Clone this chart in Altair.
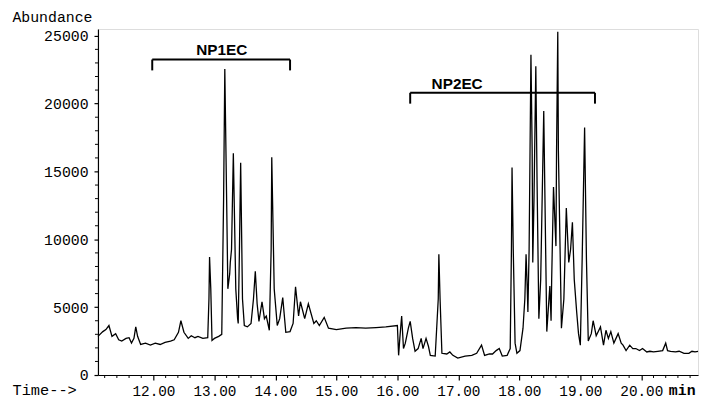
import altair as alt
import pandas as pd

# Retention time (min) and abundance
time_min = [
    11.09, 11.17, 11.22, 11.27, 11.32, 11.38, 11.43, 11.48, 11.55, 11.60,
    11.64, 11.68, 11.71, 11.74, 11.79, 11.87, 11.95, 12.03, 12.11, 12.19,
    12.28, 12.34, 12.41, 12.45, 12.50, 12.57, 12.62, 12.68, 12.73, 12.81,
    12.89, 12.91, 12.92, 12.94, 12.96, 13.00, 13.07, 13.12, 13.15, 13.17,
    13.20, 13.22, 13.25, 13.26, 13.28, 13.31, 13.35, 13.38, 13.39, 13.41,
    13.43, 13.46, 13.49, 13.54, 13.60, 13.64, 13.67, 13.70, 13.73, 13.78,
    13.82, 13.85, 13.90, 13.93, 13.94, 13.98, 14.03, 14.07, 14.12, 14.17,
    14.24, 14.29, 14.33, 14.38, 14.41, 14.48, 14.54, 14.63, 14.67, 14.72,
    14.80, 14.87, 15.00, 15.16, 15.32, 15.48, 15.65, 15.81, 16.00, 16.02,
    16.04, 16.07, 16.10, 16.13, 16.18, 16.21, 16.25, 16.29, 16.34, 16.39,
    16.42, 16.47, 16.51, 16.54, 16.62, 16.67, 16.68, 16.70, 16.73, 16.81,
    16.86, 16.91, 16.99, 17.11, 17.22, 17.30, 17.38, 17.43, 17.51, 17.56,
    17.62, 17.67, 17.72, 17.80, 17.85, 17.87, 17.88, 17.90, 17.93, 17.96,
    18.01, 18.06, 18.09, 18.11, 18.13, 18.14, 18.16, 18.19, 18.21, 18.22,
    18.24, 18.27, 18.29, 18.32, 18.35, 18.40, 18.42, 18.45, 18.50, 18.52,
    18.53, 18.56, 18.60, 18.61, 18.63, 18.64, 18.69, 18.73, 18.77, 18.81,
    18.84, 18.87, 18.90, 18.94, 18.97, 19.00, 19.03, 19.07, 19.10, 19.13,
    19.18, 19.21, 19.26, 19.33, 19.38, 19.42, 19.46, 19.50, 19.55, 19.62,
    19.67, 19.70, 19.75, 19.81, 19.86, 19.91, 19.97, 20.02, 20.09, 20.14,
    20.20, 20.27, 20.35, 20.40, 20.43, 20.48, 20.56, 20.62, 20.70, 20.78,
    20.83, 20.88, 20.93,
]
abundance = [
    2850, 3200, 3350, 3650, 2850, 3050, 2600, 2500, 2700, 2750,
    2350, 2700, 3550, 2850, 2250, 2350, 2200, 2350, 2250, 2400,
    2500, 2600, 3150, 4000, 3150, 2700, 2900, 2750, 2850, 2700,
    2750, 5600, 8700, 6350, 2550, 2700, 2850, 3000, 12900, 22550,
    12900, 6350, 7450, 8300, 9250, 16350, 6350, 4150, 3800, 9250,
    15650, 5600, 3650, 3550, 3800, 5600, 7650, 5250, 3950, 5400,
    4150, 4350, 3300, 9250, 16050, 6350, 3650, 4150, 5700, 3150,
    3200, 3800, 6500, 4350, 5400, 4150, 5250, 3800, 4000, 3650,
    4250, 3450, 3350, 3450, 3500, 3450, 3500, 3550, 3650, 1450,
    2700, 4350, 1950, 2350, 3450, 3950, 2700, 1750, 1950, 2700,
    1950, 2700, 2100, 1450, 1400, 5600, 8900, 5600, 1600, 1550,
    1700, 1450, 1250, 1400, 1450, 1600, 2200, 1450, 1550, 1550,
    1800, 1950, 1400, 1450, 1950, 9250, 15300, 9250, 2350, 1600,
    1800, 3450, 5600, 8900, 6350, 4650, 9250, 23600, 16550, 8300,
    12900, 22750, 14350, 4150, 7050, 19450, 12900, 3200, 6550, 4000,
    7050, 13850, 9500, 16550, 25300, 16550, 3450, 5600, 12300, 8300,
    9250, 11250, 7050, 4650, 3050, 2200, 8550, 18250, 8550, 2500,
    3050, 4000, 2900, 3550, 2200, 3300, 2700, 3200, 2350, 3050,
    2350, 2200, 1800, 2200, 1950, 1950, 1800, 1950, 1700, 1750,
    1700, 1750, 1800, 2350, 1800, 1750, 1700, 1750, 1600, 1600,
    1750, 1700, 1750,
]

x_major = [12, 13, 14, 15, 16, 17, 18, 19, 20]
x_minor = [11.2, 11.4, 11.6, 11.8, 12.2, 12.4, 12.6, 12.8, 13.2, 13.4, 13.6, 13.8,
           14.2, 14.4, 14.6, 14.8, 15.2, 15.4, 15.6, 15.8, 16.2, 16.4, 16.6, 16.8,
           17.2, 17.4, 17.6, 17.8, 18.2, 18.4, 18.6, 18.8, 19.2, 19.4, 19.6, 19.8,
           20.2, 20.4, 20.6, 20.8]
y_major = [0, 5000, 10000, 15000, 20000, 25000]
y_minor = [1000, 2000, 3000, 4000, 6000, 7000, 8000, 9000, 11000, 12000, 13000, 14000,
           16000, 17000, 18000, 19000, 21000, 22000, 23000, 24000]

# Group brackets
group_names = ["NP1EC", "NP2EC"]
group_start = [11.98, 16.21]
group_end = [14.24, 19.24]
group_level = [23250, 20800]
group_drop = [22450, 20000]
group_label_t = [13.12, 16.98]
group_label_y = [23550, 21100]

unit_label = ["min"]
unit_label_t = [20.67]

X_DOMAIN = [11.09, 20.93]
Y_DOMAIN = [0, 25500]
W, H = 607, 350
MONO = "Liberation Mono"

xs = alt.Scale(domain=X_DOMAIN, nice=False, zero=False)
ys = alt.Scale(domain=Y_DOMAIN, nice=False, zero=False)
xaxis = alt.Axis(
    values=x_major, format=".2f", title="Time-->", grid=False,
    domainColor="black", domainWidth=1.2, tickColor="black", tickSize=5, tickWidth=1.2,
    labelFont=MONO, labelFontSize=14.5, labelColor="black", labelPadding=5,
    titleFont=MONO, titleFontSize=15.5, titleFontWeight="normal", titleColor="black",
    titleX=-87, titleY=20, titleAlign="left", titleBaseline="alphabetic", titleAnchor="start")
yaxis = alt.Axis(
    values=y_major, format="d", title="Abundance", grid=False,
    domainColor="black", domainWidth=1.2, tickColor="black", tickSize=4, tickWidth=1.2,
    labelFont=MONO, labelFontSize=15, labelColor="black", labelPadding=6,
    titleFont=MONO, titleFontSize=15, titleFontWeight="normal", titleColor="black",
    titleAngle=0, titleX=-87, titleY=-8, titleAlign="left", titleBaseline="alphabetic",
    titleAnchor="start")

trace = pd.DataFrame({"t": time_min, "a": abundance})
line = alt.Chart(trace).mark_line(color="black", strokeWidth=1.3, strokeJoin="miter").encode(
    x=alt.X("t:Q", scale=xs, axis=xaxis),
    y=alt.Y("a:Q", scale=ys, axis=yaxis),
    order="t:Q",
)

xminor = alt.Chart(pd.DataFrame({"t": x_minor})).mark_rule(color="black", strokeWidth=1).encode(
    x=alt.X("t:Q", scale=xs, axis=xaxis),
    y=alt.value(H), y2=alt.value(H + 3),
)
yminor = alt.Chart(pd.DataFrame({"a": y_minor})).mark_rule(color="black", strokeWidth=1).encode(
    y=alt.Y("a:Q", scale=ys, axis=yaxis),
    x=alt.value(-3), x2=alt.value(0),
)

groups = pd.DataFrame({
    "name": group_names, "t0": group_start, "t1": group_end,
    "lvl": group_level, "drop": group_drop, "lt": group_label_t, "ly": group_label_y,
})
bracket_h = alt.Chart(groups).mark_rule(color="black", strokeWidth=2).encode(
    x=alt.X("t0:Q", scale=xs, axis=xaxis), x2="t1:Q",
    y=alt.Y("lvl:Q", scale=ys, axis=yaxis),
)
bracket_l = alt.Chart(groups).mark_rule(color="black", strokeWidth=2).encode(
    x=alt.X("t0:Q", scale=xs, axis=xaxis),
    y=alt.Y("lvl:Q", scale=ys, axis=yaxis), y2="drop:Q",
)
bracket_r = alt.Chart(groups).mark_rule(color="black", strokeWidth=2).encode(
    x=alt.X("t1:Q", scale=xs, axis=xaxis),
    y=alt.Y("lvl:Q", scale=ys, axis=yaxis), y2="drop:Q",
)
group_text = alt.Chart(groups).mark_text(
    font="Liberation Sans", fontSize=15.5, fontWeight="bold", color="black",
    align="center", baseline="alphabetic",
).encode(
    x=alt.X("lt:Q", scale=xs, axis=xaxis),
    y=alt.Y("ly:Q", scale=ys, axis=yaxis),
    text="name:N",
)

min_text = alt.Chart(pd.DataFrame({"t": unit_label_t, "s": unit_label})).mark_text(
    font=MONO, fontSize=15, fontWeight="bold", color="black",
    align="center", baseline="alphabetic",
).encode(
    x=alt.X("t:Q", scale=xs, axis=xaxis),
    y=alt.value(H + 20),
    text="s:N",
)

chart = alt.layer(
    line, xminor, yminor, bracket_h, bracket_l, bracket_r, group_text, min_text
).properties(
    width=W, height=H,
    autosize=alt.AutoSizeParams(type="none"),
    padding={"left": 91, "top": 19, "right": 3, "bottom": 22},
).configure_view(stroke=None).configure(background="white")

chart.save("out.html", embed_options={"renderer": "svg", "actions": False})
